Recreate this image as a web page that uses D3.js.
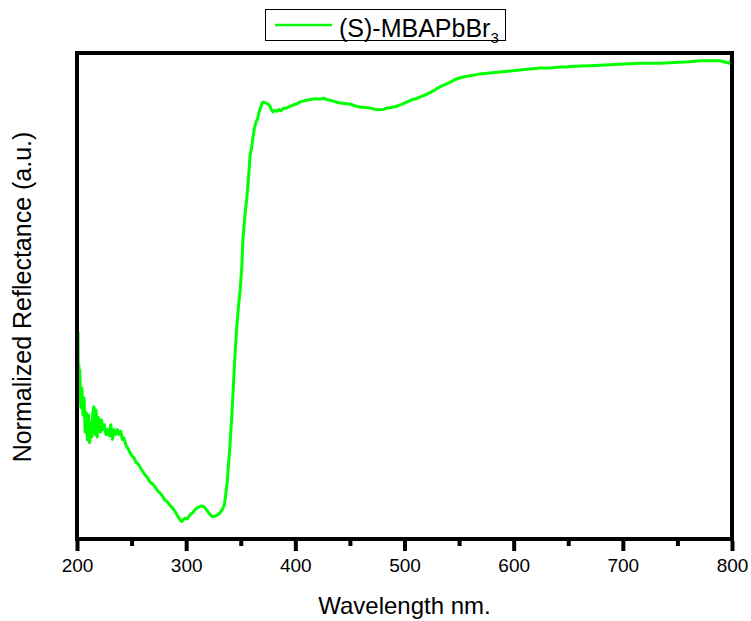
<!DOCTYPE html>
<html lang="en">
<head>
    <meta charset="UTF-8">
    <title>Normalized Reflectance</title>
    <style>
        body { margin: 0; background: #fff; }
        svg { font-family: Arial, "Liberation Sans", sans-serif; }
    </style>
</head>
<body>
<div id="chart"></div>

<script src="https://d3js.org/d3.v7.min.js"></script>
<script>
    // Wavelength (nm) and normalized reflectance (a.u., 0-100)
    var wavelength = [
        201, 201.3, 201.7, 202, 202.5, 203.5, 204.5, 205.5, 206.5, 207.5,
        208.5, 209.5, 210.5, 211.5, 212.5, 213.5, 214.5, 215.5, 216.5, 217.5,
        218.5, 219.5, 220.5, 221.5, 222.5, 223.5, 225, 226.5, 228, 229.5,
        231, 232.5, 234, 235.5, 237, 238.5, 240, 241.5, 243, 245,
        247, 249.5, 252, 254, 256, 258, 260, 262, 264, 267,
        269, 271.5, 274, 276, 278, 280.5, 283, 285, 287.5, 290,
        292, 294.5, 296, 297.5, 299, 301, 303.5, 306, 308, 310,
        312, 314, 316, 318, 320, 322, 324, 326.5, 329, 331,
        333, 335, 337.5, 340, 342, 343, 345, 346.5, 348, 349.5,
        351, 352, 354, 355.5, 357, 358.5, 360, 361, 362.5, 364,
        365.5, 366.7, 368, 369.5, 371, 373, 375, 376.8, 378, 379.5,
        381, 383, 385, 387, 389, 392, 395, 398, 401, 404,
        407, 411, 415, 419, 423, 426, 429, 432, 436, 441,
        445, 450, 455, 459, 464, 468, 473, 477, 481, 484,
        488, 492, 496, 500, 504, 508, 511, 514, 518, 523,
        527, 532, 537, 542, 546, 551, 555, 560, 565, 569,
        574, 578, 583, 588, 592, 597, 601, 606, 610, 615,
        620, 624, 629, 633, 638, 643, 648, 652, 661, 670,
        679, 688, 697, 706, 716, 725, 734, 743, 752, 761,
        771, 780, 789, 794, 798, 799, 800
    ];
    var reflectance = [
        42.6, 28.6, 36.0, 30.0, 34.8, 27.0, 31.0, 25.5, 29.0, 22.0,
        26.0, 20.4, 25.5, 19.8, 24.0, 21.0, 26.0, 27.2, 21.5, 26.5,
        21.0, 25.0, 24.5, 22.0, 24.5, 22.5, 23.5, 21.5, 22.5, 21.2,
        23.5, 20.5, 22.5, 21.5, 22.5, 21.5, 22.2, 20.5, 20.8, 19.2,
        18.5, 17.3, 16.8, 15.8, 15.4, 14.7, 14.0, 13.3, 12.8, 11.7,
        11.4, 10.7, 9.9, 9.5, 8.9, 8.0, 7.6, 7.0, 6.4, 5.6,
        4.8, 3.9, 3.6, 4.0, 4.3, 4.1, 5.0, 5.4, 6.0, 6.4,
        6.6, 6.8, 6.7, 6.2, 5.6, 5.0, 4.6, 4.7, 5.0, 5.4,
        6.0, 7.0, 11.5, 18.9, 26.0, 30.5, 39.0, 44.0, 48.0, 51.4,
        56.0, 61.7, 67.0, 70.0, 74.0, 78.8, 80.6, 82.3, 84.5, 85.8,
        86.5, 87.8, 88.6, 89.7, 89.9, 89.7, 89.5, 89.1, 88.3, 87.9,
        88.2, 88.0, 88.4, 88.1, 88.6, 88.7, 89.0, 89.3, 89.5, 89.9,
        90.1, 90.3, 90.5, 90.6, 90.5, 90.7, 90.4, 90.3, 90.0, 89.7,
        89.6, 89.5, 89.1, 88.9, 88.8, 88.7, 88.4, 88.3, 88.4, 88.7,
        88.8, 89.0, 89.3, 89.7, 90.1, 90.5, 90.6, 90.9, 91.3, 91.8,
        92.3, 93.0, 93.5, 94.0, 94.5, 94.9, 95.1, 95.3, 95.5, 95.7,
        95.8, 95.9, 96.0, 96.1, 96.2, 96.3, 96.4, 96.5, 96.6, 96.7,
        96.8, 96.9, 96.9, 96.9, 97.0, 97.1, 97.1, 97.2, 97.3, 97.4,
        97.5, 97.6, 97.7, 97.8, 97.9, 97.9, 97.9, 98.0, 98.1, 98.2,
        98.4, 98.4, 98.4, 98.1, 97.9, 98.6, 99.0
    ];
    var majorTicks = [200, 300, 400, 500, 600, 700, 800];
    var minorTicks = [250, 350, 450, 550, 650, 750];
    var seriesName = "(S)-MBAPbBr";
    var seriesSub = "3";
    var lineColor = "#00ff00";

    var width = 751, height = 621;
    var plot = { left: 77, right: 732, top: 53, bottom: 539 };

    var svg = d3.select("#chart").append("svg")
        .attr("width", width)
        .attr("height", height);

    var x = d3.scaleLinear().domain([200, 800]).range([plot.left, plot.right]);
    var y = d3.scaleLinear().domain([0, 100]).range([plot.bottom, plot.top]);

    // Spectrum line
    var points = wavelength.map((w, i) => [w, reflectance[i]]);
    svg.append("path")
        .datum(points)
        .attr("fill", "none")
        .attr("stroke", lineColor)
        .attr("stroke-width", 3)
        .attr("stroke-linejoin", "round")
        .attr("d", d3.line().x(d => x(d[0])).y(d => y(d[1])));

    // Bottom axis: major ticks with labels, minor ticks without
    var xAxis = svg.append("g")
        .attr("transform", "translate(0," + (plot.bottom + 2) + ")")
        .call(d3.axisBottom(x).tickValues(majorTicks).tickSize(10).tickPadding(8).tickSizeOuter(0));
    xAxis.select(".domain").remove();
    xAxis.selectAll(".tick line").attr("stroke-width", 4).attr("stroke", "#000");
    xAxis.selectAll(".tick text").attr("font-size", 19).attr("font-family", "Arial, 'Liberation Sans', sans-serif").attr("fill", "#000");

    var xMinor = svg.append("g")
        .attr("transform", "translate(0," + (plot.bottom + 2) + ")")
        .call(d3.axisBottom(x).tickValues(minorTicks).tickSize(5).tickFormat("").tickSizeOuter(0));
    xMinor.select(".domain").remove();
    xMinor.selectAll(".tick line").attr("stroke-width", 4).attr("stroke", "#000");

    // Frame
    svg.append("rect")
        .attr("x", plot.left)
        .attr("y", plot.top)
        .attr("width", plot.right - plot.left)
        .attr("height", plot.bottom - plot.top)
        .attr("fill", "none")
        .attr("stroke", "#000")
        .attr("stroke-width", 4);

    // Axis titles
    svg.append("text")
        .attr("x", (plot.left + plot.right) / 2)
        .attr("y", 614)
        .attr("text-anchor", "middle")
        .attr("font-size", 24)
        .text("Wavelength nm.");

    svg.append("text")
        .attr("transform", "translate(31," + ((plot.top + plot.bottom) / 2 + 1) + ") rotate(-90)")
        .attr("text-anchor", "middle")
        .attr("font-size", 25)
        .text("Normalized Reflectance (a.u.)");

    // Legend
    var legend = svg.append("g");
    legend.append("rect")
        .attr("x", 265.5).attr("y", 9.5)
        .attr("width", 240).attr("height", 31)
        .attr("fill", "#fff")
        .attr("stroke", "#000")
        .attr("stroke-width", 1);
    legend.append("line")
        .attr("x1", 275).attr("x2", 332)
        .attr("y1", 25).attr("y2", 25)
        .attr("stroke", lineColor)
        .attr("stroke-width", 2.5);
    var legendText = legend.append("text")
        .attr("x", 339).attr("y", 37)
        .attr("font-size", 25);
    legendText.append("tspan").text(seriesName);
    legendText.append("tspan")
        .attr("font-size", 15)
        .attr("dy", 6)
        .text(seriesSub);
</script>

</body>
</html>
